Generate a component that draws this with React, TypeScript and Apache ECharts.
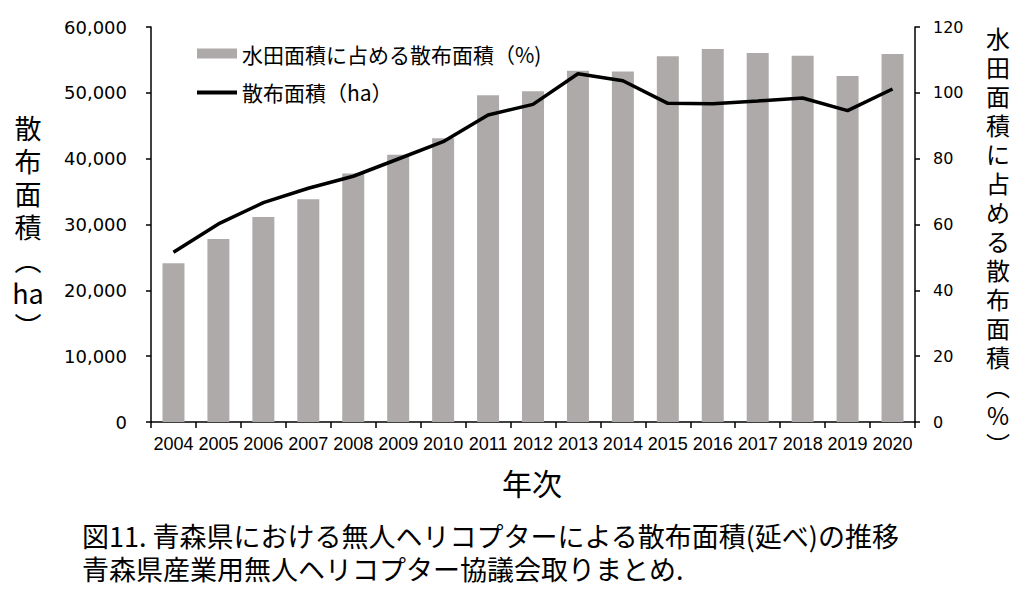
import React, { useEffect, useRef } from "react";
import * as echarts from "echarts";

const years = ["2004","2005","2006","2007","2008","2009","2010","2011","2012","2013","2014","2015","2016","2017","2018","2019","2020"];
const sharePct = [48.2, 55.6, 62.3, 67.7, 75.5, 81.2, 86.2, 99.3, 100.5, 106.7, 106.5, 111.1, 113.3, 112.1, 111.3, 105.1, 111.8];
const areaHa = [25800, 30090, 33320, 35500, 37330, 39950, 42580, 46630, 48250, 52900, 51840, 48400, 48350, 48760, 49210, 47290, 50580];
const barName = "水田面積に占める散布面積（%)";
const lineName = "散布面積（ha）";
const leftTitle = ["散", "布", "面", "積", "︵", "ha", "︶"];
const rightTitle = ["水", "田", "面", "積", "に", "占", "め", "る", "散", "布", "面", "積", "︵", "%", "︶"];
const xTitle = "年次";
const caption1 = "図11. 青森県における無人ヘリコプターによる散布面積(延べ)の推移";
const caption2 = "青森県産業用無人ヘリコプター協議会取りまとめ.";

const CJK = "'Noto Sans CJK JP', 'Noto Sans', sans-serif";

export default function App() {
  const ref = useRef<HTMLDivElement>(null);
  useEffect(() => {
    if (!ref.current) return;
    const chart = echarts.init(ref.current, null, { renderer: "svg" });
    const axisLine = { show: true, lineStyle: { color: "#000", width: 1.5 } };
    const leftChars = leftTitle.map((ch, i) => ({
      type: "text",
      x: 28,
      y: 127 + i * 33,
      style: {
        text: ch,
        font: `27px ${CJK}`,
        fill: "#000",
        align: "center",
        verticalAlign: "middle",
      },
    }));
    const rightChars = rightTitle.map((ch, i) => ({
      type: "text",
      x: 998,
      y: 37 + i * 29,
      style: {
        text: ch,
        font: `24px ${CJK}`,
        fill: "#000",
        align: "center",
        verticalAlign: "middle",
      },
    }));
    chart.setOption({
      animation: false,
      backgroundColor: "#fff",
      grid: { left: 151, right: 121, top: 27, bottom: 185, containLabel: false },
      legend: {
        orient: "vertical",
        left: 190,
        top: 38,
        itemWidth: 40,
        itemHeight: 10,
        itemGap: 18,
        textStyle: { fontFamily: CJK, fontSize: 21, color: "#000" },
        data: [
          { name: barName, icon: "rect" },
          { name: lineName, itemStyle: { opacity: 0 }, lineStyle: { width: 4, color: "#000" } },
        ],
      },
      xAxis: {
        type: "category",
        data: years,
        boundaryGap: true,
        axisLine,
        axisTick: { show: true, inside: false, length: 6, lineStyle: { color: "#000", width: 1.5 } },
        axisLabel: { interval: 0, margin: 13, fontFamily: "'Liberation Sans', Arial, sans-serif", fontSize: 18, color: "#000" },
        splitLine: { show: false },
      },
      yAxis: [
        {
          type: "value",
          min: 0,
          max: 60000,
          interval: 10000,
          axisLine,
          axisTick: { show: true, length: 5, lineStyle: { color: "#000", width: 1.5 } },
          axisLabel: {
            margin: 24,
            fontFamily: "'DejaVu Sans', sans-serif",
            fontSize: 18,
            color: "#000",
            formatter: (v: number) => v.toLocaleString("en-US"),
          },
          splitLine: { show: false },
        },
        {
          type: "value",
          min: 0,
          max: 120,
          interval: 20,
          position: "right",
          axisLine,
          axisTick: { show: true, length: 5, lineStyle: { color: "#000", width: 1.5 } },
          axisLabel: { margin: 18, fontFamily: "'DejaVu Sans', sans-serif", fontSize: 16, color: "#000" },
          splitLine: { show: false },
        },
      ],
      series: [
        {
          name: barName,
          type: "bar",
          yAxisIndex: 1,
          data: sharePct,
          barWidth: 22,
          itemStyle: { color: "#aeaaaa" },
        },
        {
          name: lineName,
          type: "line",
          yAxisIndex: 0,
          data: areaHa,
          symbol: "none",
          lineStyle: { color: "#000", width: 3.5 },
          itemStyle: { color: "#000" },
          z: 5,
        },
      ],
      graphic: [
        ...leftChars,
        ...rightChars,
        {
          type: "text",
          x: 532,
          y: 482,
          style: {
            text: xTitle,
            font: `30px ${CJK}`,
            fill: "#000",
            align: "center",
            verticalAlign: "middle",
          },
        },
        {
          type: "text",
          x: 82,
          y: 535,
          style: {
            text: caption1,
            font: `27px ${CJK}`,
            fill: "#000",
            align: "left",
            verticalAlign: "middle",
          },
        },
        {
          type: "text",
          x: 82,
          y: 568,
          style: {
            text: caption2,
            font: `27px ${CJK}`,
            fill: "#000",
            align: "left",
            verticalAlign: "middle",
          },
        },
      ],
    });
    return () => chart.dispose();
  }, []);
  return <div ref={ref} style={{ position: "fixed", left: 0, top: 0, width: 1036, height: 607 }} />;
}
